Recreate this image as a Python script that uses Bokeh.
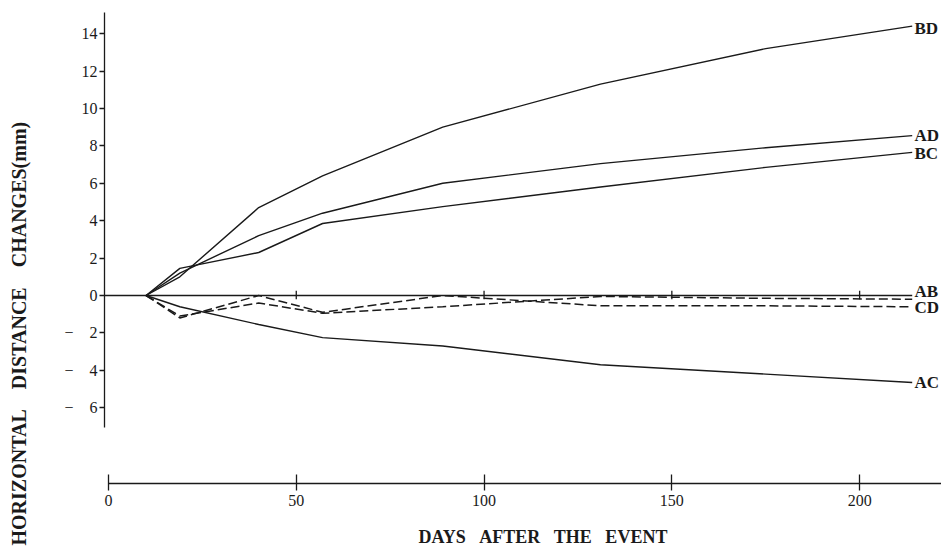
from bokeh.plotting import figure
from bokeh.models import Range1d, Label, FixedTicker, Title
from bokeh.embed import file_html
from bokeh.resources import INLINE

# ---- data ----
days = [10, 19, 40, 57, 89, 131, 175, 214]
bd = [0, 1.0, 4.7, 6.4, 9.0, 11.3, 13.2, 14.4]
ad = [0, 1.2, 3.2, 4.4, 6.0, 7.05, 7.9, 8.55]
bc = [0, 1.45, 2.3, 3.85, 4.75, 5.8, 6.85, 7.65]
ac = [0, -0.6, -1.55, -2.25, -2.7, -3.7, -4.2, -4.65]
ab = [0, -1.1, -0.4, -0.95, -0.6, -0.05, -0.15, -0.2]
cd = [0, -1.2, 0.0, -0.9, 0.0, -0.55, -0.55, -0.6]

x_ticks = [0, 50, 100, 150, 200]
y_ticks = [-6, -4, -2, 0, 2, 4, 6, 8, 10, 12, 14]
zero_ticks = [50, 100, 150, 200]

solid_series = {"BD": bd, "AD": ad, "BC": bc, "AC": ac}
dashed_series = {"AB": ab, "CD": cd}
label_nudge = {"BD": -0.15, "AD": 0.0, "BC": -0.05, "AC": 0.0, "AB": 0.4, "CD": -0.05}

NB = "\u00a0"
y_title = (NB * 4).join(["HORIZONTAL", "DISTANCE", "CHANGES(mm)"])
x_title = (NB * 3).join(["DAYS", "AFTER", "THE", "EVENT"])

SERIF = "Liberation Serif"
INK = "#1a1a1a"

p = figure(width=941, height=552,
           x_range=Range1d(-1.06, 221.8), y_range=Range1d(-10.05, 15.13),
           output_backend="svg", toolbar_location=None, title=None,
           min_border_left=101, min_border_right=0,
           min_border_top=12, min_border_bottom=69)
p.outline_line_color = None
p.grid.visible = False
p.background_fill_color = "white"
p.border_fill_color = "white"

# x axis
xa = p.xaxis[0]
xa.ticker = FixedTicker(ticks=x_ticks)
xa.bounds = (0, 221.8)
xa.major_tick_out = 7
xa.major_tick_in = 9
xa.minor_tick_line_color = None
xa.axis_line_color = INK
xa.major_tick_line_color = INK
xa.axis_line_width = 1.3
xa.major_tick_line_width = 1.3
xa.major_label_text_font = SERIF
xa.major_label_text_font_size = "16px"
xa.major_label_text_color = INK
xa.major_label_standoff = 4
xa.axis_label = NB            # invisible spacer
xa.axis_label_text_font_size = "6px"
xa.axis_label_standoff = 2

# y axis
ya = p.yaxis[0]
ya.ticker = FixedTicker(ticks=y_ticks)
ya.bounds = (-7.05, 15.13)
ya.major_tick_out = 5
ya.major_tick_in = 0
ya.minor_tick_line_color = None
ya.axis_line_color = INK
ya.major_tick_line_color = INK
ya.axis_line_width = 1.3
ya.major_tick_line_width = 1.3
ya.major_label_text_font = SERIF
ya.major_label_text_font_size = "16px"
ya.major_label_text_color = INK
ya.major_label_standoff = 2
ya.major_label_overrides = {t: "\u2212" + NB * 4 + str(abs(t)) for t in y_ticks if t < 0}
ya.axis_label = NB            # invisible spacer
ya.axis_label_text_font_size = "10px"
ya.axis_label_standoff = 13

p.add_layout(Title(text=y_title, align="left", offset=-62,
                   text_font=SERIF, text_font_style="bold", text_font_size="20px",
                   text_color=INK), "left")
p.add_layout(Title(text=x_title, align="left", offset=314,
                   text_font=SERIF, text_font_style="bold", text_font_size="18px",
                   text_color=INK), "below")

# zero reference line with ticks
p.segment(x0=[p.x_range.start], y0=[0], x1=[days[-1]], y1=[0], line_color=INK, line_width=1.3)
p.segment(x0=zero_ticks, y0=[-0.2] * len(zero_ticks), x1=zero_ticks, y1=[0.25] * len(zero_ticks),
          line_color=INK, line_width=1.3)

for name, vals in solid_series.items():
    p.line(days, vals, line_color=INK, line_width=1.4)
for name, vals in dashed_series.items():
    p.line(days, vals, line_color=INK, line_width=1.5, line_dash="9 4")

for name, vals in list(solid_series.items()) + list(dashed_series.items()):
    p.add_layout(Label(x=days[-1] + 0.6, y=vals[-1] + label_nudge[name], text=name,
                       text_baseline="middle", text_align="left",
                       text_font=SERIF, text_font_style="bold",
                       text_font_size="17px", text_color=INK))

open("out.html", "w").write(file_html(p, INLINE))
